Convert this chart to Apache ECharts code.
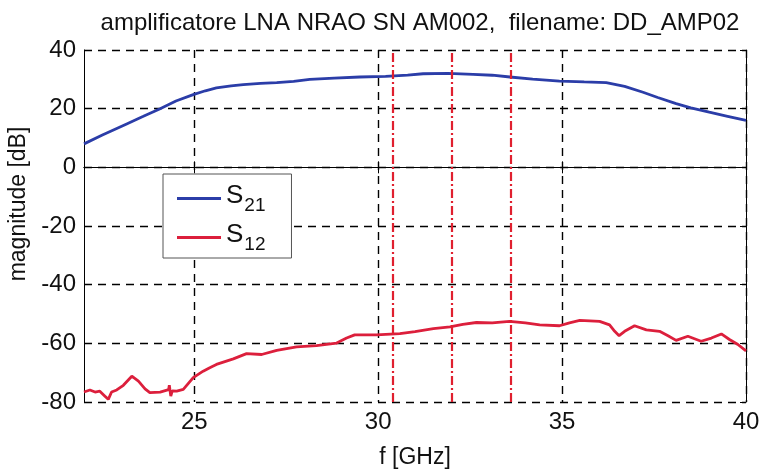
<!DOCTYPE html>
<html>
<head>
    <meta charset="utf-8">
    <title>LNA NRAO SN AM002</title>
    <script src="https://cdn.jsdelivr.net/npm/echarts@6/dist/echarts.min.js"></script>
    <style>
        html, body { margin: 0; padding: 0; background: #fff; }
        #chart { width: 762px; height: 471px; }
    </style>
</head>
<body>
<div id="chart"></div>
<script type="text/javascript">
    // dati
    var s21Freq = [22.0, 22.5, 23.16, 23.6, 24.07, 24.5, 24.97, 25.3, 25.6, 26.0, 26.33, 26.8, 27.24, 27.7, 28.14, 28.8, 29.5, 30.2, 30.8, 31.22, 31.9, 32.58, 33.1, 33.58, 34.2, 34.93, 35.6, 36.2, 36.7, 37.2, 37.6, 38.1, 38.5, 39.0, 39.5, 40.0];
    var s21Mag  = [8.0, 11.0, 14.8, 17.3, 20.0, 22.6, 24.8, 26.1, 27.1, 27.8, 28.2, 28.6, 28.9, 29.3, 30.0, 30.4, 30.8, 31.0, 31.4, 31.9, 32.0, 31.7, 31.4, 30.8, 30.1, 29.4, 29.1, 28.9, 27.6, 25.6, 23.8, 21.7, 20.3, 18.8, 17.4, 16.0];

    var s12Freq = [22.0, 22.16, 22.3, 22.43, 22.57, 22.66, 22.75, 22.89, 23.07, 23.3, 23.48, 23.66, 23.79, 24.07, 24.3, 24.32, 24.36, 24.4, 24.52, 24.7, 24.97, 25.24, 25.42, 25.6, 26.06, 26.42, 26.83, 27.24, 27.78, 28.32, 28.87, 29.14, 29.36, 29.95, 30.59, 31.0, 31.5, 31.95, 32.3, 32.67, 33.1, 33.57, 34.0, 34.39, 34.93, 35.2, 35.48, 36.02, 36.29, 36.43, 36.55, 36.7, 36.97, 37.29, 37.65, 37.88, 38.1, 38.42, 38.78, 39.06, 39.33, 39.55, 39.78, 40.0];
    var s12Mag  = [-76.6, -75.9, -76.6, -76.3, -78.0, -79.1, -76.6, -75.9, -74.3, -71.2, -72.9, -75.5, -76.8, -76.6, -75.8, -74.3, -78.0, -76.2, -76.3, -75.7, -71.7, -69.5, -68.3, -67.2, -65.3, -63.5, -63.8, -62.4, -61.2, -60.8, -59.9, -58.2, -57.1, -57.1, -56.7, -56.0, -55.0, -54.4, -53.5, -52.9, -53.0, -52.5, -53.0, -53.7, -54.0, -53.0, -52.2, -52.5, -53.7, -55.9, -57.4, -55.9, -54.0, -55.4, -55.9, -57.4, -59.0, -57.6, -59.3, -58.2, -56.8, -58.7, -60.4, -62.6];

    // linee verticali rosse (banda)
    var markerFreqs = [30.4, 32.0, 33.6];

    var xTicks = [25, 30, 35, 40];

    function pairs(xs, ys) {
        var out = [];
        for (var i = 0; i < xs.length; i++) out.push([xs[i], ys[i]]);
        return out;
    }

    var myChart = echarts.init(document.getElementById('chart'));

    var gridLine = { show: true, lineStyle: { color: '#000', type: [8, 6], width: 1.4 } };
    var fontFam = 'Liberation Sans, Arial, sans-serif';

    myChart.setOption({
        animation: false,
        backgroundColor: '#fff',
        title: {
            text: 'amplificatore LNA NRAO SN AM002,  filename: DD_AMP02',
            left: 415, top: 6, textAlign: 'center',
            textStyle: { fontFamily: fontFam, fontSize: 24, fontWeight: 'normal', color: '#111' }
        },
        grid: { left: 84, right: 16, top: 50, bottom: 69, outerBoundsMode: 'none', containLabel: false },
        legend: {
            orient: 'vertical',
            left: 163, top: 174,
            padding: [8, 26, 4, 14],
            itemGap: 6,
            itemWidth: 44, itemHeight: 3,
            icon: 'rect',
            backgroundColor: '#fff',
            borderColor: '#555', borderWidth: 1,
            data: ['S21', 'S12'],
            formatter: function (name) { return '{s|S}{sub|' + name.substring(1) + '}'; },
            textStyle: {
                fontFamily: fontFam, color: '#111',
                rich: {
                    s: { fontSize: 26, lineHeight: 33, fontFamily: fontFam, padding: [0, 0, 6, 0] },
                    sub: { fontSize: 19, lineHeight: 33, fontFamily: fontFam, padding: [14, 0, 0, 1] }
                }
            }
        },
        xAxis: [{
            type: 'value', min: 22, max: 40,
            name: 'f [GHz]', nameLocation: 'middle', nameGap: 44,
            nameTextStyle: { fontFamily: fontFam, fontSize: 23, color: '#111' },
            axisLine: { show: true, lineStyle: { color: '#000', width: 1 } },
            axisTick: { show: true, inside: true, length: 6, customValues: xTicks, lineStyle: { color: '#000' } },
            axisLabel: { customValues: xTicks, fontFamily: fontFam, fontSize: 24, color: '#111', margin: 8 },
            splitLine: gridLine
        }, {
            type: 'value', min: 22, max: 40, position: 'top',
            axisLine: { show: true, lineStyle: { color: '#000', width: 1 } },
            axisTick: { show: true, inside: true, length: 6, customValues: xTicks, lineStyle: { color: '#000' } },
            axisLabel: { show: false },
            splitLine: { show: false }
        }],
        yAxis: [{
            type: 'value', min: -80, max: 40, interval: 20,
            name: 'magnitude [dB]', nameLocation: 'middle', nameGap: 50,
            nameTextStyle: { fontFamily: fontFam, fontSize: 23, color: '#111', padding: [0, 0, 0, 44] },
            axisLine: { show: true, lineStyle: { color: '#000', width: 1 } },
            axisTick: { show: true, inside: true, length: 6, lineStyle: { color: '#000' } },
            axisLabel: { fontFamily: fontFam, fontSize: 24, color: '#111', margin: 8 },
            splitLine: gridLine
        }, {
            type: 'value', min: -80, max: 40, interval: 20, position: 'right',
            axisLine: { show: true, lineStyle: { color: '#000', width: 1 } },
            axisTick: { show: true, inside: true, length: 6, lineStyle: { color: '#000' } },
            axisLabel: { show: false },
            splitLine: { show: false }
        }],
        series: [{
            name: 'S21', type: 'line', showSymbol: false, symbol: 'none',
            data: pairs(s21Freq, s21Mag),
            itemStyle: { color: '#2b3da8' },
            lineStyle: { color: '#2b3da8', width: 2.8 },
            z: 3
        }, {
            name: 'S12', type: 'line', showSymbol: false, symbol: 'none',
            data: pairs(s12Freq, s12Mag),
            itemStyle: { color: '#dc1f3c' },
            lineStyle: { color: '#dc1f3c', width: 2.8 },
            markLine: {
                silent: true, symbol: 'none',
                label: { show: false },
                lineStyle: { color: '#e0202f', width: 2.2, type: [9, 3, 2, 3] },
                data: markerFreqs.map(function (f) { return { xAxis: f }; })
            },
            z: 3
        }]
    });
</script>
</body>
</html>
